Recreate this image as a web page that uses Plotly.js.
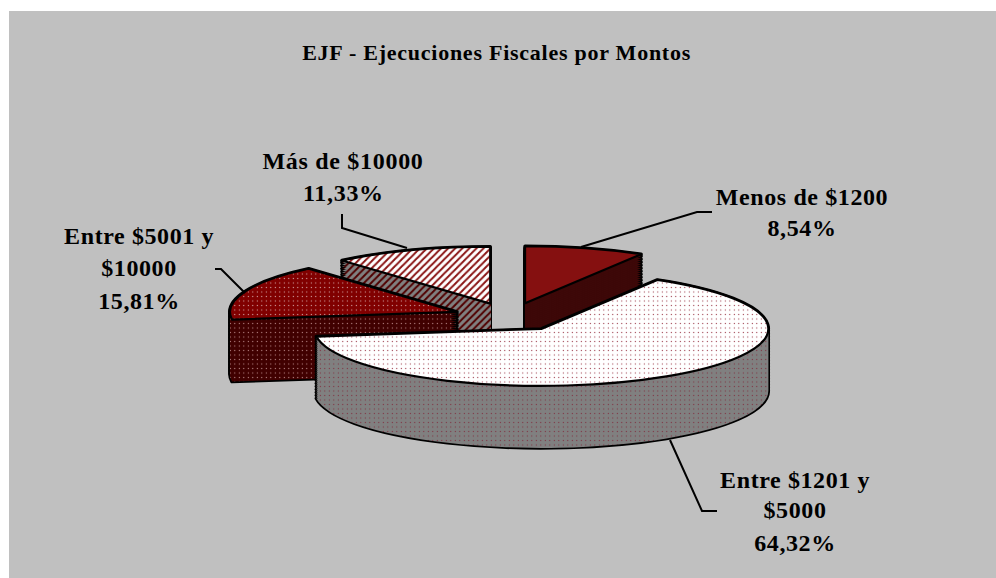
<!DOCTYPE html>
<html><head><meta charset="utf-8">
<script src="https://cdn.plot.ly/plotly-3.0.1.min.js"></script>
<style>html,body{margin:0;padding:0;background:#fff}#c{width:996px;height:578px}</style></head>
<body><div id="c"></div>
<script>
const categories = ["Menos de $1200", "Entre $1201 y $5000", "Entre $5001 y $10000", "Más de $10000"];
const percentages = [8.54, 64.32, 15.81, 11.33];
const slicePull = [0.25, 0.25, 0.25, 0.25];
const topColors = ["#851010", "#ffffff", "#800000", "#ffffff"];
const sideColors = ["#3d0808", "#808080", "#400000", "#808080"];
const dotColors = ["", "#993344", "#d8b0b0", "#8a1515"];
const sideDotColors = ["", "#803040", "#c09090", "#500000"];
const patternShapes = ["", ".", ".", "/"];
const patternSizes = [0, 4.5, 4.5, 5];
const patternSolidity = [0, 0.05, 0.05, 0.4];
const drawOrder = [3, 0, 2, 1];
const labelLines = [
  ["EJF - Ejecuciones Fiscales por Montos", 497, 52, 22, 0.75],
  ["Menos de $1200", 802, 197, 24, 0.6], ["8,54%", 802, 228, 24, 0.6],
  ["Más de $10000", 343, 161, 24, 0.7], ["11,33%", 343, 193, 24, 0.7],
  ["Entre $5001 y", 139, 236, 24, 0.6], ["$10000", 139, 268, 24, 0.6], ["15,81%", 139, 301, 24, 0.6],
  ["Entre $1201 y", 795, 480, 24, 0.6], ["$5000", 795, 510, 24, 0.6], ["64,32%", 795, 543, 24, 0.6]
];
const leaderPaths = [
  [[712,212],[697,212],[581,247]],
  [[342,214],[342,228],[407,248]],
  [[215,269],[221,269],[245,293]],
  [[670,440],[702,511],[717,511]]
];
const W = 996, H = 578, depth = 62, rxTarget = 227, ryTarget = 57, centerX = 510, centerY = 317;

function pieLayer(s, fill, lineColor, lineWidth, fg) {
  const blank = "rgba(0,0,0,0)";
  const colors = percentages.map((_, i) => i === s ? fill : blank);
  const marker = {
    colors,
    line: { color: percentages.map((_, i) => i === s ? lineColor : blank),
            width: percentages.map((_, i) => i === s ? lineWidth : 0) }
  };
  if (fg && patternShapes[s]) {
    marker.pattern = {
      shape: percentages.map((_, i) => i === s ? patternShapes[s] : ""),
      fgcolor: percentages.map((_, i) => i === s ? fg : blank),
      bgcolor: colors,
      size: percentages.map((_, i) => i === s ? patternSizes[s] : 8),
      solidity: percentages.map((_, i) => i === s ? patternSolidity[s] : 0.3),
      fillmode: "replace"
    };
  }
  return { type: "pie", values: percentages, labels: categories, sort: false, direction: "clockwise",
    rotation: 0, pull: slicePull, textinfo: "none", hoverinfo: "skip", showlegend: false,
    domain: { x: [0, 1], y: [0, 1] }, marker };
}
const traces = [], lift = [];
drawOrder.forEach(s => {
  for (let z = 0; z <= depth; z += 3) { traces.push(pieLayer(s, "#000000", "#000000", 3.5)); lift.push(z); }
  traces.push(pieLayer(s, "#000000", "#000000", 3.5)); lift.push(depth);
  for (let z = 0; z <= depth; z += 2) { traces.push(pieLayer(s, sideColors[s], sideColors[s], 0, sideDotColors[s])); lift.push(z); }
  traces.push(pieLayer(s, topColors[s], "#000000", 2.2, dotColors[s])); lift.push(depth);
});
const layout = {
  width: W, height: H, margin: { l: 0, r: 0, t: 0, b: 0, pad: 0 }, paper_bgcolor: "#ffffff", showlegend: false,
  shapes: [{ type: "rect", xref: "paper", yref: "paper", x0: 9 / W, x1: 1, y0: 0, y1: 1 - 11 / H,
             fillcolor: "#c0c0c0", line: { width: 0 }, layer: "below" }].concat(
    leaderPaths.map(p => ({ type: "path", xref: "paper", yref: "paper", layer: "above",
      path: p.map((q, i) => (i ? "L" : "M") + (q[0] / W) + "," + (1 - q[1] / H)).join(" "),
      line: { color: "#000", width: 2 } }))),
  annotations: labelLines.map(l => ({ text: l[0], x: l[1] / W, y: 1 - l[2] / H, xref: "paper", yref: "paper",
    xanchor: "center", yanchor: "middle", showarrow: false,
    font: { family: "Liberation Serif", size: l[3], color: "#000", weight: 700 } }))
};
Plotly.newPlot("c", traces, layout, { displayModeBar: false, staticPlot: true }).then(gd => {
  const cd = gd.calcdata[0][0];
  const sx = rxTarget / cd.r, sy = ryTarget / cd.r;
  gd.querySelectorAll(".pielayer .trace").forEach((g, i) => {
    const z = lift[i];
    g.setAttribute("transform", `translate(${centerX},${centerY + depth - z}) scale(${sx},${sy}) translate(${-cd.cx},${-cd.cy})`);
    g.querySelectorAll("path").forEach(p => {
      p.setAttribute("vector-effect", "non-scaling-stroke");
      const m = (p.style.fill || "").match(/url\(["']?[^#]*#([^"')]+)/);
      if (m) {
        const pat = document.getElementById(m[1]);
        if (pat) pat.setAttribute("patternTransform", `translate(0,${z / sy}) scale(${1 / sx},${1 / sy})`);
      }
    });
  });
  gd.querySelectorAll(".annotation-text").forEach((t, i) => {
    t.style.letterSpacing = labelLines[i][4] + "px";
  });
});
</script></body></html>
